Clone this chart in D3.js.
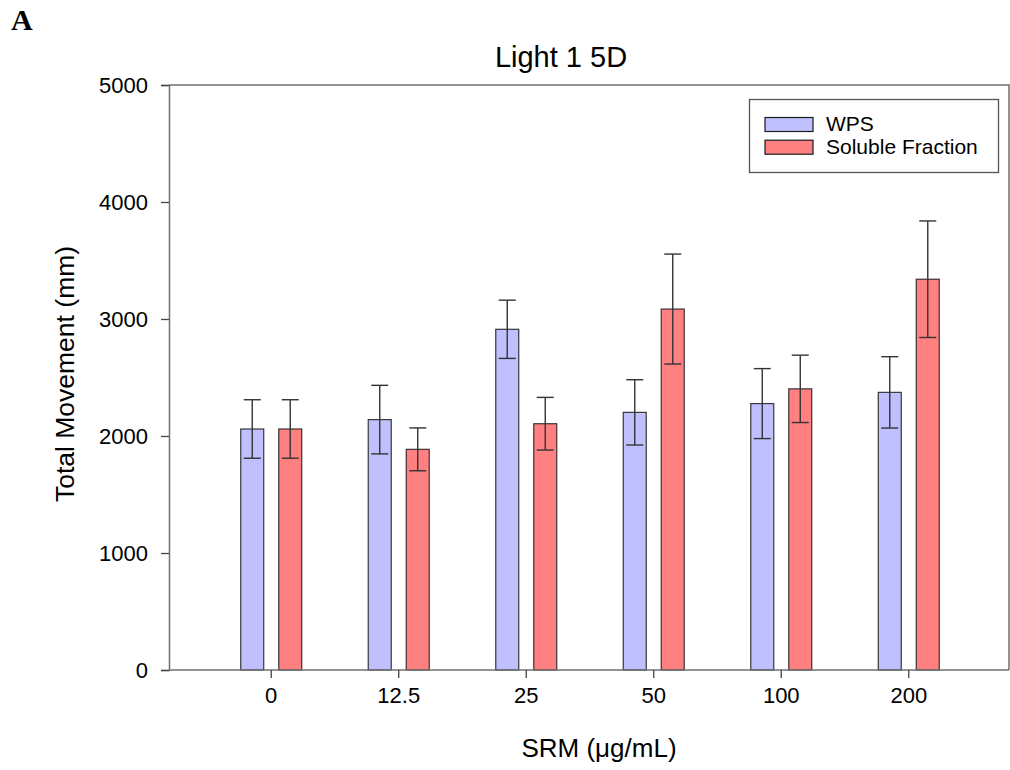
<!DOCTYPE html>
<html>
<head>
<meta charset="utf-8">
<script src="https://cdn.jsdelivr.net/npm/d3@7"></script>
<style>
  html, body { margin: 0; padding: 0; background: #fff; }
  svg { display: block; }
  text { font-family: "Liberation Sans", Arial, sans-serif; fill: #000; }
</style>
</head>
<body>
<svg id="chart" width="1010" height="770"></svg>
<script>
// Concentrations on the x axis
const categories = ["0", "12.5", "25", "50", "100", "200"];
// Mean total movement (mm) and error (mm) for each series
const wpsMean = [2060, 2140, 2912, 2202, 2277, 2373];
const wpsErr  = [250, 293, 249, 279, 299, 305];
const solMean = [2060, 1886, 2105, 3085, 2403, 3340];
const solErr  = [250, 183, 225, 470, 288, 498];
const yTicks = [0, 1000, 2000, 3000, 4000, 5000];
const seriesNames = ["WPS", "Soluble Fraction"];
const seriesColors = ["#C0C0FF", "#FF8080"];

const svg = d3.select("#chart");

const plotLeft = 169, plotRight = 1009, plotTop = 85, plotBottom = 670;

const x = d3.scalePoint().domain(categories).range([plotLeft + 1, plotRight]).padding(0.79);
const y = d3.scaleLinear().domain([0, 5000]).range([plotBottom, plotTop]);

const barW = 23;
const offsets = [-18.5, 19.5];

const series = [
  { name: seriesNames[0], color: seriesColors[0], mean: wpsMean, err: wpsErr },
  { name: seriesNames[1], color: seriesColors[1], mean: solMean, err: solErr }
];

// Panel letter
svg.append("text")
  .attr("x", 11).attr("y", 30)
  .style("font-family", "'Liberation Serif', 'Times New Roman', serif")
  .style("font-weight", "bold")
  .style("font-size", "30px")
  .text("A");

// Title
svg.append("text")
  .attr("x", 561).attr("y", 67)
  .attr("text-anchor", "middle")
  .style("font-size", "29px")
  .text("Light 1 5D");

// Frame (top and right)
svg.append("path")
  .attr("d", `M${plotLeft},${plotTop}H${plotRight}V${plotBottom}`)
  .attr("fill", "none")
  .attr("stroke", "#707070")
  .attr("stroke-width", 1.5);

// Bars
series.forEach((s, si) => {
  const g = svg.append("g");
  g.selectAll("rect")
    .data(categories)
    .join("rect")
    .attr("x", (c) => x(c) + offsets[si] - barW / 2)
    .attr("y", (c, i) => y(s.mean[i]))
    .attr("width", barW)
    .attr("height", (c, i) => y(0) - y(s.mean[i]))
    .attr("fill", s.color)
    .attr("stroke", "#1a1a1a")
    .attr("stroke-opacity", 0.85)
    .attr("stroke-width", 1.2);
});

// Error bars
series.forEach((s, si) => {
  const g = svg.append("g")
    .attr("stroke", "#333")
    .attr("stroke-width", 1.4)
    .attr("fill", "none");
  categories.forEach((c, i) => {
    const cx = x(c) + offsets[si];
    const hi = y(s.mean[i] + s.err[i]);
    const lo = y(s.mean[i] - s.err[i]);
    g.append("line").attr("x1", cx).attr("x2", cx).attr("y1", hi).attr("y2", lo);
    g.append("line").attr("x1", cx - 8.5).attr("x2", cx + 8.5).attr("y1", hi).attr("y2", hi);
    g.append("line").attr("x1", cx - 8.5).attr("x2", cx + 8.5).attr("y1", lo).attr("y2", lo);
  });
});

// Y axis
const yAxis = svg.append("g")
  .attr("transform", `translate(${plotLeft},0)`)
  .call(d3.axisLeft(y).tickValues(yTicks).tickFormat(d3.format("d")).tickSize(8).tickPadding(13));
yAxis.select(".domain").attr("stroke", "#707070").attr("stroke-width", 1.5);
yAxis.selectAll(".tick line").attr("stroke", "#444").attr("stroke-width", 1.3);
yAxis.selectAll(".tick text")
  .style("font-family", "'Liberation Sans', Arial, sans-serif")
  .style("font-size", "22px")
  .attr("fill", "#000");

// X axis
const xAxis = svg.append("g")
  .attr("transform", `translate(0,${plotBottom})`)
  .call(d3.axisBottom(x).tickSize(8).tickPadding(9));
xAxis.select(".domain").attr("d", `M${plotLeft},0H${plotRight}`).attr("stroke", "#707070").attr("stroke-width", 1.5);
xAxis.selectAll(".tick line").attr("stroke", "#444").attr("stroke-width", 1.3);
xAxis.selectAll(".tick text")
  .style("font-family", "'Liberation Sans', Arial, sans-serif")
  .style("font-size", "22px")
  .attr("fill", "#000");

// Axis titles
svg.append("text")
  .attr("transform", "translate(74,374) rotate(-90)")
  .attr("text-anchor", "middle")
  .style("font-size", "26.5px")
  .text("Total Movement (mm)");

svg.append("text")
  .attr("x", 599).attr("y", 757)
  .attr("text-anchor", "middle")
  .style("font-size", "26px")
  .text("SRM (μg/mL)");

// Legend
const legend = svg.append("g");
legend.append("rect")
  .attr("x", 749.5).attr("y", 99.5)
  .attr("width", 249).attr("height", 73)
  .attr("fill", "#fff")
  .attr("stroke", "#555")
  .attr("stroke-width", 1.3);
series.forEach((s, si) => {
  const ly = 117.5 + si * 22.7;
  legend.append("rect")
    .attr("x", 765).attr("y", ly)
    .attr("width", 48).attr("height", 14)
    .attr("fill", s.color)
    .attr("stroke", "#1a1a1a")
    .attr("stroke-width", 1.2);
  legend.append("text")
    .attr("x", 826).attr("y", ly + 13.5)
    .style("font-size", "21px")
    .text(s.name);
});
</script>
</body>
</html>
